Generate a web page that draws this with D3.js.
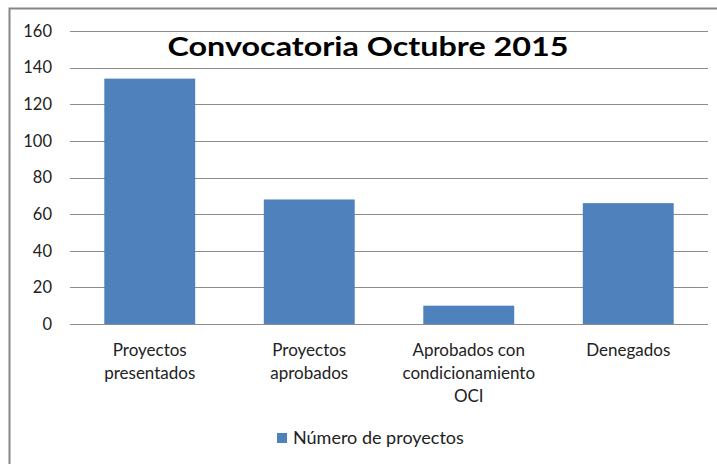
<!doctype html>
<html>
<head>
  <script src="https://d3js.org/d3.v7.min.js"></script>
  <style>
    body { margin: 0; background: #fff; }
    text { font-family: Lato, "Open Sans", sans-serif; }
  </style>
</head>
<body>
<div id="viz"></div>
<script>
// chart data
var categories = [
  ["Proyectos", "presentados"],
  ["Proyectos", "aprobados"],
  ["Aprobados con", "condicionamiento", "OCI"],
  ["Denegados"]
];
var values = [134, 68, 10, 66];
var yTicks = [0, 20, 40, 60, 80, 100, 120, 140, 160];
var seriesName = "Número de proyectos";
var title = "Convocatoria Octubre 2015";

var W = 717, H = 464;
var plot = {left: 70, right: 708, top: 31, bottom: 324};

var svg = d3.select("#viz").append("svg")
    .attr("width", W).attr("height", H);

// outer frame of the chart
svg.append("rect")
    .attr("x", 9.5).attr("y", 8.5)
    .attr("width", W + 10).attr("height", H + 10)
    .attr("fill", "#fff")
    .attr("stroke", "#868686")
    .attr("stroke-width", 2);

var idx = categories.map((d, i) => i);

var x = d3.scaleBand()
    .domain(idx)
    .range([plot.left, plot.right])
    .paddingInner(0.43)
    .paddingOuter(0.215);

var y = d3.scaleLinear()
    .domain([0, 160])
    .range([plot.bottom, plot.top]);

// gridlines
svg.append("g")
  .selectAll("line")
  .data(yTicks)
  .enter().append("line")
    .attr("x1", plot.left).attr("x2", plot.right)
    .attr("y1", d => Math.round(y(d)) + 0.5)
    .attr("y2", d => Math.round(y(d)) + 0.5)
    .attr("stroke", "#8c8c8c")
    .attr("stroke-width", 1);

// y tick labels
svg.append("g")
  .selectAll("text")
  .data(yTicks)
  .enter().append("text")
    .attr("x", 52)
    .attr("y", d => y(d))
    .attr("dy", "0.35em")
    .attr("text-anchor", "end")
    .attr("font-size", 16.5)
    .attr("fill", "#222")
    .text(d => d);

// bars
svg.append("g")
  .selectAll("rect")
  .data(values)
  .enter().append("rect")
    .attr("x", (d, i) => x(i))
    .attr("width", x.bandwidth())
    .attr("y", d => y(d))
    .attr("height", d => y(0) - y(d))
    .attr("fill", "#4F81BD");

// category labels
var cat = svg.append("g")
  .selectAll("text")
  .data(categories)
  .enter().append("text")
    .attr("text-anchor", "middle")
    .attr("font-size", 17)
    .attr("fill", "#222");
cat.each(function(lines, i) {
  d3.select(this).selectAll("tspan")
    .data(lines)
    .enter().append("tspan")
      .attr("x", x(i) + x.bandwidth() / 2)
      .attr("y", (d, j) => 356 + j * 23)
      .text(d => d);
});

// title
svg.append("text")
    .attr("x", 368)
    .attr("y", 56)
    .attr("text-anchor", "middle")
    .attr("font-size", 27)
    .attr("font-weight", "bold")
    .attr("fill", "#000")
    .attr("textLength", 401)
    .attr("lengthAdjust", "spacingAndGlyphs")
    .text(title);

// legend
svg.append("rect")
    .attr("x", 277).attr("y", 433)
    .attr("width", 10).attr("height", 10)
    .attr("fill", "#4F81BD");
svg.append("text")
    .attr("x", 293)
    .attr("y", 438)
    .attr("dy", "0.35em")
    .attr("font-size", 18)
    .attr("fill", "#222")
    .text(seriesName);
</script>
</body>
</html>
